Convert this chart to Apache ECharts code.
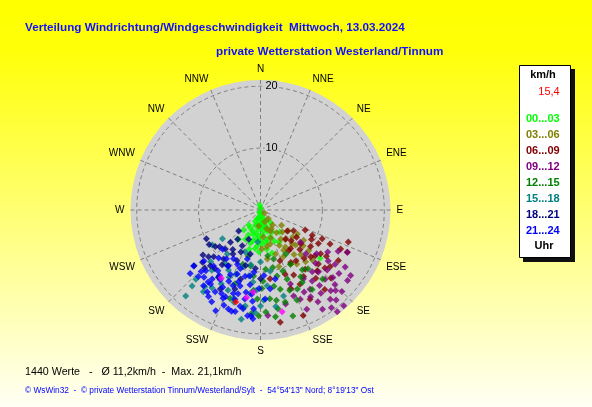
<!DOCTYPE html>
<html>
<head>
<meta charset="utf-8">
<script src="https://cdn.jsdelivr.net/npm/echarts@6/dist/echarts.min.js"></script>
<style>
html,body{margin:0;padding:0;}
#chart{width:592px;height:407px;}
</style>
</head>
<body>
<div id="chart"></div>
<script>
// ---- data ----
const compassLabels = ['N','NNE','NE','ENE','E','ESE','SE','SSE','S','SSW','SW','WSW','W','WNW','NW','NNW'];
const hourBands = ['00...03','03...06','06...09','09...12','12...15','15...18','18...21','21...24'];
const radiusTicks = [10, 20];
// [speed km/h, direction deg]
const band00_03 = [[0.8,350],[0.3,10],[0.4,200],[0.6,180],[1.2,165],[1.5,200],[1.9,150],[2.1,175],[2.6,198],[2.7,165],[2.6,142],[3.1,186],[3.1,218],[3.6,201],[3.6,162],[4.0,175],[4.2,220],[4.5,206],[4.7,188],[4.6,160],[4.7,139],[5.6,197],[5.5,177],[5.3,207],[5.9,217],[5.5,156],[6.4,171],[6.3,188],[6.8,182],[7.2,165],[12.4,129],[3.4,172],[2.3,188],[4.9,168],[5.1,194],[1.0,185],[6.0,150],
  [1.6,175],[2.9,178],[3.8,190],[4.3,183],[5.0,180],[5.8,185],[4.1,196],[3.3,210],[2.4,175],[1.2,190],[3.0,160],[4.0,152],[5.2,170],[6.6,196],[2.0,205]];
const band03_06 = [[0.8,127],[1.9,138],[3.1,141],[3.2,162],[4.5,145],[5.7,145],[5.7,164],[7.2,146],[7.5,137],[9.7,138],[10.2,130],[11.7,134],[10.5,146],[8.4,154],[7.5,161],[5.6,127],[4.2,126],[10.0,151],[9.6,162],[8.5,125],[7.1,123],[13.4,137],[4.4,174],[6.3,178],[2.6,187],[8.0,172],[11.1,139],[6.5,152],[3.8,155],[9.0,143],
  [2.0,160],[3.5,150],[5.0,135],[6.2,140],[6.8,130],[8.0,135],[9.0,130],[4.8,160],[6.0,170],[7.5,150]];
const band06_09 = [[5.5,128],[6.3,122],[7.9,114],[9.3,116],[15.1,110],[15.6,116],[15.0,123],[14.5,129],[12.0,126],[10.0,126],[8.5,130],[7.9,142],[10.0,145],[12.0,143],[14.2,141],[11.1,159],[8.8,159],[13.6,152],[13.6,159],[18.4,158],[18.4,170],[16.5,141],[11.1,133],[6.2,139],[12.5,116],[11.0,115],[7.3,127],[14.4,116],[11.2,172],[16.5,151],
  [9.0,135],[10.5,138],[11.5,130],[12.8,133],[13.5,137],[9.8,150],[8.0,145],[7.0,135],[10.8,120],[12.8,147],[14.0,132],[11.8,153],[9.5,120],[13.0,125],[15.8,134]];
const band09_12 = [[14.2,118],[15.6,116],[14.9,126],[16.3,129],[18.1,129],[18.6,135],[20.5,139],[20.6,143],[17.5,148],[17.7,155],[14.9,159],[15.1,148],[13.7,137],[8.3,129],[13.1,148],[17.1,176],[17.3,139],[15.3,137],[12.4,134],[13.7,127],[16.6,144],[15.8,156],[15.7,165],[18.3,142],[16.5,124],[14.2,144],[10.2,134],[12.9,158],[17.0,135],[18.9,148],
  [13.0,140],[14.5,132],[16.0,133],[17.8,137],[19.0,140],[16.2,150],[15.0,152],[19.5,144],[11.5,128],[12.8,122],[18.0,126],[15.5,142]];
const band12_15 = [[16.0,190],[17.1,181],[14.4,182],[17.9,163],[15.4,165],[14.1,155],[12.0,159],[11.0,166],[8.2,165],[7.5,171],[9.2,190],[12.7,179],[12.2,141],[12.6,149],[15.0,138],[16.2,170],[9.2,198],[7.7,195],[10.7,186],[14.4,174],[13.2,166],[9.6,175],[12.6,199],[15.1,199],[10.0,151],[15.3,147],[17.4,172],[8.2,150],
  [13.8,160],[14.8,170],[16.5,177],[12.5,170],[11.5,178],[13.0,185],[15.7,158],[10.5,160],[9.5,168],[16.8,185],[13.5,150],[11.8,145]];
const band15_18 = [[9.6,234],[7.2,200],[5.2,185],[18.4,221],[15.3,216],[14.0,202],[15.5,196],[15.7,189],[9.6,197],[11.7,186],[8.9,217],[12.8,212],[16.1,215],[15.0,197],[15.5,180],[12.3,175],[14.4,165],[10.0,171],[8.4,180],[11.6,224],[7.7,233],[11.1,201],[15.3,223],[13.6,187],[17.9,190],[15.8,171],[10.4,213],
  [12.0,205],[13.5,208],[14.8,212],[16.5,222],[12.5,219],[10.8,190],[13.0,183],[14.6,178],[16.6,183],[11.0,208],[9.0,190]];
const band18_21 = [[4.9,226],[9.9,242],[7.1,223],[8.5,222],[6.5,207],[10.7,225],[14.0,230],[12.1,222],[9.9,217],[12.8,212],[10.4,210],[9.3,195],[11.6,196],[8.4,212],[11.3,228],[12.6,228],[7.3,193],[13.4,198],[9.5,185],[14.3,207],[5.1,202],[9.4,231],[11.1,180],
  [7.8,215],[8.9,228],[10.0,236],[11.8,232],[6.0,218],[7.5,205],[10.8,215],[12.0,218],[9.0,205],[13.0,224]];
const band21_24 = [[13.8,224],[15.3,217],[16.3,211],[17.8,204],[15.1,202],[14.2,198],[16.9,194],[17.2,187],[17.6,184],[12.0,215],[12.6,204],[12.7,195],[10.1,186],[9.5,203],[8.2,195],[14.2,220],[14.7,223],[14.1,230],[12.3,228],[14.4,216],[15.1,209],[15.5,203],[17.2,185],[16.0,184],[14.4,177],[12.8,173],[10.6,177],[10.8,189],[12.1,197],[9.0,209],[8.8,224],[14.4,214],[14.6,190],[16.8,198],[12.7,181],[10.0,199],[11.4,168],[15.3,228],[13.6,215],
  [11.5,205],[13.0,210],[13.9,206],[15.8,213],[16.5,201],[15.9,192],[14.8,185],[13.5,190],[12.2,188],[11.0,193],[10.5,210],[11.8,220],[13.2,222],[16.8,208],[17.0,196],[14.0,195],[13.0,200],[15.0,196],[16.2,190],[11.0,200],[12.5,212],[9.6,215],[10.3,221],[14.9,205],[13.7,186]];
const currentValue = [[15.4,195]];
const extraMarks = [[12.7,210],[13.3,185],[14.3,189],[16.8,168]];
const bandData = [band00_03, band03_06, band06_09, band09_12, band12_15, band15_18, band18_21, band21_24];

// ---- styles ----
const bandColors = ['#00ff00','#808000','#800000','#800080','#008000','#008080','#000080','#0000ff'];
const FONT = 'Liberation Sans, Arial, sans-serif';

const chart = echarts.init(document.getElementById('chart'), null, {renderer:'canvas'});

const series = bandData.map((d, i) => ({
  name: hourBands[i], type: 'scatter', coordinateSystem: 'polar',
  data: d, symbol: 'diamond', symbolSize: 7, z: 5,
  itemStyle: {color: bandColors[i]}, emphasis: {disabled: true}
}));
series.push({name:'extra', type:'scatter', coordinateSystem:'polar', data: extraMarks, symbol:'diamond', symbolSize:7, z:5, itemStyle:{color:'#ff00ff'}});
series.push({name:'current', type:'scatter', coordinateSystem:'polar', data: currentValue, symbol:'diamond', symbolSize:7, z:5, itemStyle:{color:'#ff0000'}});

const option = {
  animation: false,
  backgroundColor: {type:'linear', x:0, y:0, x2:0, y2:1, colorStops:[
    {offset:0, color:'#ffff00'},{offset:0.12, color:'#ffff08'},{offset:1, color:'#fffff4'}]},
  title: [
    {text:'Verteilung Windrichtung/Windgeschwindigkeit  Mittwoch, 13.03.2024', left:20, top:17,
     textStyle:{color:'#1010ff', fontSize:11.7, fontWeight:'bold', fontFamily:FONT}},
    {text:'private Wetterstation Westerland/Tinnum', left:211, top:41,
     textStyle:{color:'#1010ff', fontSize:11.7, fontWeight:'bold', fontFamily:FONT}},
    {text:'1440 Werte   -   Ø 11,2km/h  -  Max. 21,1km/h', left:20, top:362,
     textStyle:{color:'#000000', fontSize:10.7, fontWeight:'normal', fontFamily:FONT}},
    {text:'© WsWin32  -  © private Wetterstation Tinnum/Westerland/Sylt  -  54°54\'13" Nord; 8°19\'13" Ost', left:20, top:382,
     textStyle:{color:'#0000ff', fontSize:8.3, fontWeight:'normal', fontFamily:FONT}}
  ],
  polar: {center:[260.5, 210], radius:130},
  angleAxis: {
    type:'value', min:0, max:360, interval:22.5, startAngle:90, clockwise:true, z:2,
    axisLine:{show:false}, axisTick:{show:false},
    axisLabel:{show:true, margin:6, color:'#000', fontSize:10, fontFamily:FONT,
      formatter: v => { const i = Math.round(v/22.5); return i < 16 ? compassLabels[i] : ''; }},
    splitLine:{show:true, lineStyle:{color:'#808080', type:[4,3], width:1}},
    splitArea:{show:false}
  },
  radiusAxis: {
    type:'value', min:0, max:21, interval:10, z:3,
    axisLine:{show:false}, axisTick:{show:false},
    axisLabel:{show:true, color:'#000', fontSize:11, fontFamily:FONT, margin:-4, align:'left',
      backgroundColor:'#d2d2d2', padding:[0,1,0,1],
      formatter: v => radiusTicks.indexOf(v) >= 0 ? String(v) : ''},
    splitLine:{show:true, lineStyle:{color:['#808080','#808080','#808080','rgba(0,0,0,0)'], type:[4,3], width:1}}
  },
  legend: {
    data: hourBands.map((n, i) => ({name:n, icon:'none', textStyle:{color:bandColors[i]}})),
    orient:'vertical', left:516, top:107, itemWidth:0, itemHeight:14, itemGap:2, selectedMode:false,
    textStyle:{fontSize:11, fontWeight:'bold', fontFamily:FONT, lineHeight:14}
  },
  graphic: [
    {type:'circle', shape:{cx:260.5, cy:210, r:130}, style:{fill:'#d2d2d2'}, z:-10, silent:true},
    {type:'rect', shape:{x:523, y:69, width:52, height:193}, style:{fill:'#101010'}, z:-1},
    {type:'rect', shape:{x:519.5, y:65.5, width:51, height:192}, style:{fill:'#ffffff', stroke:'#000000', lineWidth:1}, z:-1},
    {type:'text', style:{text:'km/h', x:543, y:75, align:'center', verticalAlign:'middle', fill:'#000', font:'bold 11px '+FONT}},
    {type:'text', style:{text:'15,4', x:549, y:92, align:'center', verticalAlign:'middle', fill:'#ff0000', font:'11px '+FONT}},
    {type:'text', style:{text:'Uhr', x:544, y:246, align:'center', verticalAlign:'middle', fill:'#000', font:'bold 11px '+FONT}}
  ],
  series: series
};
chart.setOption(option);
</script>
</body>
</html>
